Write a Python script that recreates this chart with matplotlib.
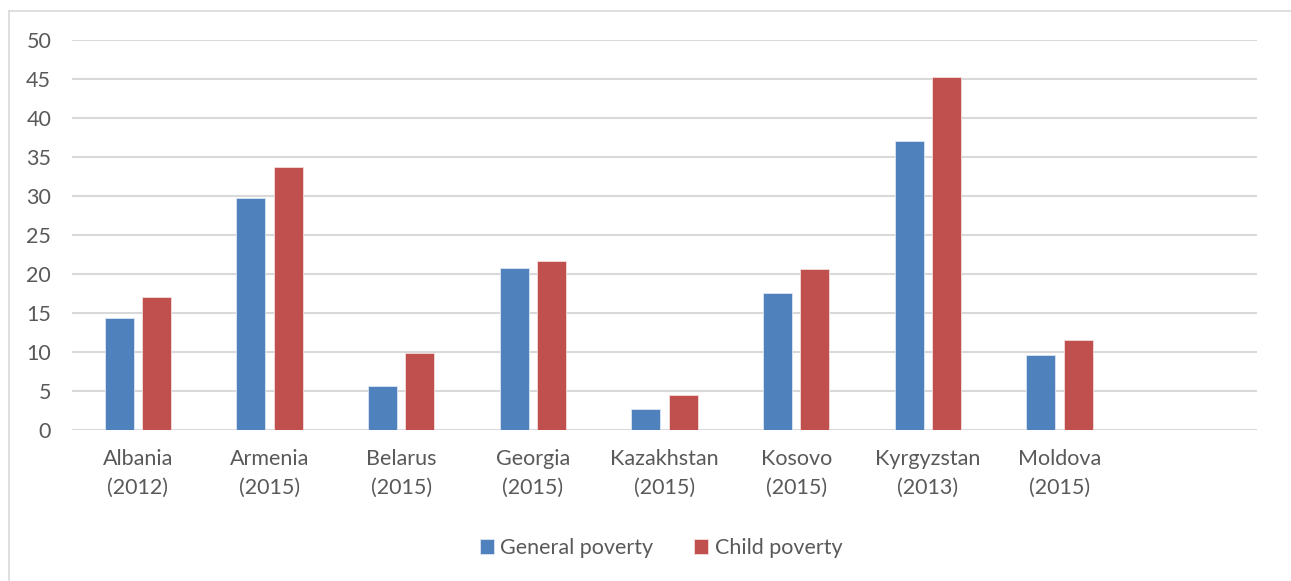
import matplotlib.pyplot as plt
import numpy as np
from matplotlib.lines import Line2D

countries = ["Albania\n(2012)", "Armenia\n(2015)", "Belarus\n(2015)", "Georgia\n(2015)",
             "Kazakhstan\n(2015)", "Kosovo\n(2015)", "Kyrgyzstan\n(2013)", "Moldova\n(2015)", ""]
general = [14.3, 29.8, 5.7, 20.8, 2.7, 17.6, 37.0, 9.6, 0]
child = [17.1, 33.7, 9.9, 21.7, 4.5, 20.7, 45.2, 11.5, 0]
yticks = [0, 5, 10, 15, 20, 25, 30, 35, 40, 45, 50]

blue = "#4f81bd"
red = "#c0504d"
textcol = "#595959"

plt.rcParams["font.family"] = ["Lato", "DejaVu Sans"]

W, H = 1291, 581
fig = plt.figure(figsize=(W / 100, H / 100), dpi=100)
ax = fig.add_axes([72 / W, 1 - 430 / H, (1257 - 72) / W, (430 - 40) / H])

x = np.arange(len(countries))
bw = 0.22
ax.bar(x - 0.1425, general, bw, color=blue, edgecolor="#dce6f2", linewidth=0.6,
       label="General poverty", zorder=3)
ax.bar(x + 0.1425, child, bw, color=red, edgecolor="#f2dcdb", linewidth=0.6,
       label="Child poverty", zorder=3)

ax.set_xlim(-0.5, len(countries) - 0.5)
ax.set_ylim(0, 50)
ax.set_yticks(yticks)
ax.set_xticks(x)
ax.set_xticklabels(countries, fontsize=15.5, color=textcol, linespacing=1.5)
ax.tick_params(axis="y", labelsize=15.5, labelcolor=textcol, length=0, pad=15)
ax.tick_params(axis="x", length=0, pad=14)
for lab in ax.get_yticklabels():
    lab.set_horizontalalignment("right")

ax.grid(axis="y", color="#d9d9d9", linewidth=1.5, zorder=0)
for s in ax.spines.values():
    s.set_visible(False)

ax.legend(loc="center", bbox_to_anchor=(661 / W, 1 - 548 / H), bbox_transform=fig.transFigure,
          ncol=2, frameon=False, fontsize=15.5, labelcolor=textcol, handlelength=0.65,
          handleheight=0.65, handletextpad=0.3, columnspacing=1.9)

# chart border
fig.add_artist(Line2D([9 / W, 9 / W], [0, 1 - 11 / H], color="#d9d9d9", lw=1.2,
                      transform=fig.transFigure))
fig.add_artist(Line2D([9 / W, 1], [1 - 11 / H, 1 - 11 / H], color="#d9d9d9", lw=1.2,
                      transform=fig.transFigure))

plt.savefig("out.png", dpi=100)
